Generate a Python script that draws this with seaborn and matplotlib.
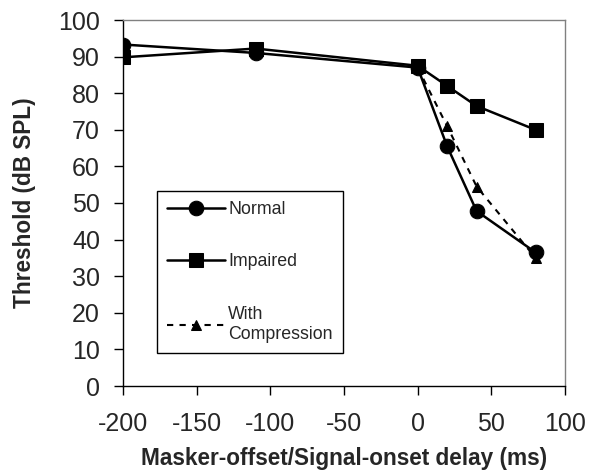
import matplotlib
matplotlib.use("Agg")
import matplotlib.pyplot as plt
import seaborn as sns
import pandas as pd

delay_normal = [-200, -110, 0, 20, 40, 80]
thr_normal = [93.3, 91.0, 87.0, 65.5, 47.8, 36.5]
delay_impaired = [-200, -110, 0, 20, 40, 80]
thr_impaired = [89.8, 92.2, 87.5, 82.0, 76.5, 70.0]
delay_comp = [0, 20, 40, 80]
thr_comp = [87.0, 71.0, 54.5, 35.0]
x_ticks = [-200, -150, -100, -50, 0, 50, 100]
y_ticks = [0, 10, 20, 30, 40, 50, 60, 70, 80, 90, 100]

sns.set_style("ticks")
plt.rcParams['font.family'] = ['Liberation Sans', 'DejaVu Sans']
plt.rcParams['axes.unicode_minus'] = False

fig = plt.figure(figsize=(6.0, 4.71), dpi=100)
L, R, T, B = 123, 565, 20, 386
ax = fig.add_axes([L/600, 1-B/471, (R-L)/600, (B-T)/471])

sns.lineplot(x=delay_normal, y=thr_normal, ax=ax, color='black', lw=1.8,
             marker='o', markersize=10.5, markeredgecolor='black', label='Normal')
sns.lineplot(x=delay_impaired, y=thr_impaired, ax=ax, color='black', lw=1.8,
             marker='s', markersize=10, markeredgecolor='black', label='Impaired')
sns.lineplot(x=delay_comp, y=thr_comp, ax=ax, color='black', lw=1.5,
             marker='^', markersize=6.5, markeredgecolor='black',
             dashes=(3, 3), label='With\nCompression')

ax.set_xlim(-200, 100)
ax.set_ylim(0, 100)
ax.set_xticks(x_ticks)
ax.set_yticks(y_ticks)
ax.tick_params(axis='both', labelsize=18, direction='out', length=6.5, width=1, color='black')
ax.tick_params(axis='x', pad=12)
ax.tick_params(axis='y', pad=10)
for s in ['top', 'right']:
    ax.spines[s].set_color('#808080')
    ax.spines[s].set_linewidth(1)
for s in ['left', 'bottom']:
    ax.spines[s].set_color('black')
    ax.spines[s].set_linewidth(1)

ax.set_xlabel('Masker-offset/Signal-onset delay (ms)', fontsize=16.3, fontweight='bold', labelpad=8)
ax.set_ylabel('Threshold (dB SPL)', fontsize=16.3, fontweight='bold', labelpad=16)

x0 = (157 - L) / (R - L)
w = 186 / (R - L)
ytop = (B - 191) / (B - T)
leg = ax.legend(loc='upper left', bbox_to_anchor=(x0, ytop - 0.44, w, 0.44), mode='expand',
                fontsize=12.8, frameon=True, fancybox=False, edgecolor='black', framealpha=1,
                handlelength=3.3, handletextpad=0.15, labelspacing=2.0,
                borderpad=0.55, borderaxespad=0)
leg.get_frame().set_linewidth(1)
leg.get_texts()[2].set_linespacing(1.25)

fig.savefig('out.png', dpi=100)
